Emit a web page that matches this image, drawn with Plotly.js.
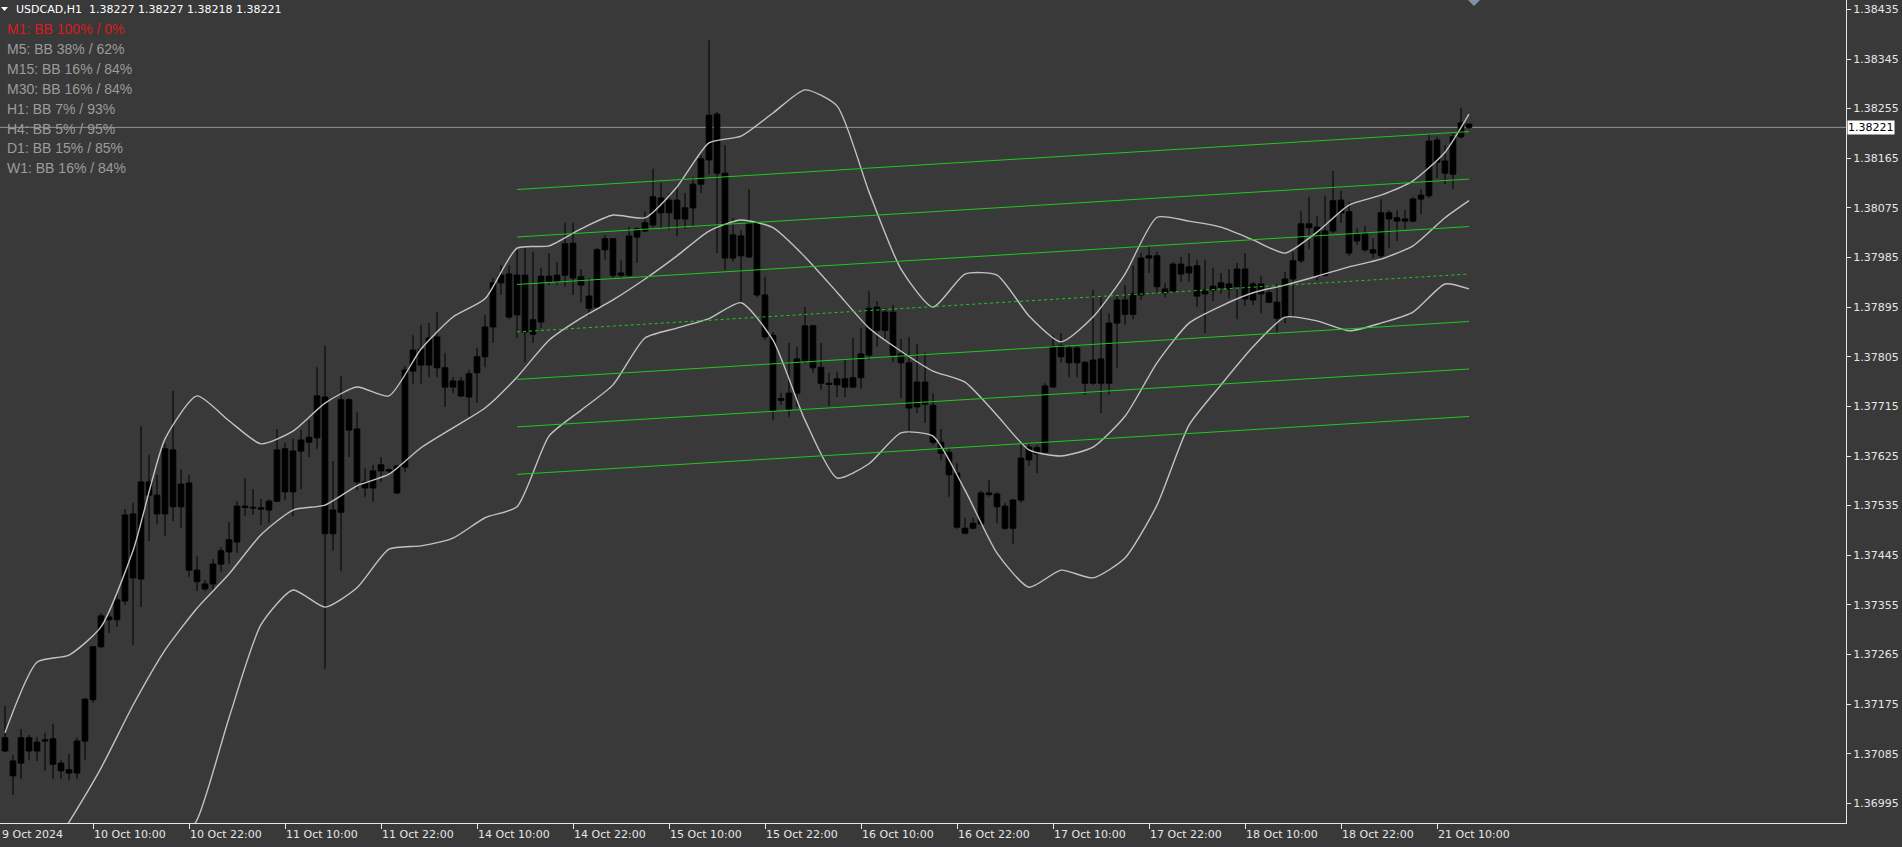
<!DOCTYPE html>
<html>
<head>
<meta charset="utf-8">
<script src="https://cdn.plot.ly/plotly-3.0.1.min.js"></script>
<style>
html,body{margin:0;padding:0;background:#393939;overflow:hidden;}
#chart{width:1902px;height:847px;}
</style>
</head>
<body>
<div id="chart"></div>
<script>
// ---- data (USDCAD, H1) ----
const symbol = "USDCAD";
const timeframe = "H1";

const open = [
1.37114,1.37072,1.37068,1.37114,1.37090,1.37108,1.37112,1.37068,1.37056,1.37050,1.37108,1.37183,
1.37279,1.37333,1.37328,1.37362,1.37520,1.37402,1.37578,1.37554,1.37520,1.37636,1.37533,1.37576,
1.37418,1.37393,1.37393,1.37429,1.37451,1.37469,1.37534,1.37532,1.37531,1.37527,1.37543,1.37638,
1.37560,1.37634,1.37650,1.37658,1.37732,1.37484,1.37523,1.37727,1.37674,1.37578,1.37567,1.37598,
1.37600,1.37558,1.37605,1.37779,1.37819,1.37790,1.37841,1.37785,1.37750,1.37761,1.37732,1.37776,
1.37805,1.37859,1.37939,1.37955,1.37881,1.37953,1.37846,1.37868,1.37951,1.37942,1.37953,1.38011,
1.37950,1.37915,1.37895,1.37999,1.38019,1.37953,1.37953,1.38022,1.38033,1.38044,1.38093,1.38066,
1.38089,1.38055,1.38075,1.38118,1.38162,1.38245,1.38138,1.37984,1.38024,1.37986,1.38048,1.37917,
1.37844,1.37726,1.37710,1.37739,1.37797,1.37861,1.37786,1.37757,1.37754,1.37765,1.37750,1.37767,
1.37808,1.37895,1.37853,1.37886,1.37810,1.37794,1.37714,1.37759,1.37717,1.37650,1.37632,1.37594,
1.37494,1.37494,1.37502,1.37558,1.37556,1.37534,1.37494,1.37545,1.37618,1.37640,1.37632,1.37750,
1.37825,1.37821,1.37794,1.37795,1.37757,1.37801,1.37757,1.37866,1.37908,1.37882,1.37917,1.37984,
1.37988,1.37928,1.37924,1.37973,1.37957,1.37970,1.37919,1.37926,1.37930,1.37937,1.37932,1.37964,
1.37908,1.37937,1.37921,1.37904,1.37877,1.37946,1.37979,1.38046,1.38040,1.37953,1.38033,1.38089,
1.38068,1.38015,1.38028,1.37999,1.37988,1.38066,1.38051,1.38055,1.38051,1.38091,1.38097,1.38198,
1.38160,1.38136,1.38204,1.38227];

const high = [
1.37172,1.37083,1.37130,1.37119,1.37115,1.37123,1.37139,1.37074,1.37085,1.37114,1.37186,1.37280,
1.37340,1.37340,1.37377,1.37529,1.37540,1.37679,1.37627,1.37591,1.37647,1.37743,1.37601,1.37591,
1.37444,1.37400,1.37438,1.37460,1.37505,1.37543,1.37585,1.37565,1.37547,1.37547,1.37674,1.37649,
1.37656,1.37672,1.37690,1.37786,1.37825,1.37616,1.37770,1.37730,1.37705,1.37603,1.37609,1.37623,
1.37603,1.37609,1.37788,1.37844,1.37863,1.37866,1.37886,1.37812,1.37768,1.37768,1.37781,1.37821,
1.37881,1.37948,1.37971,1.37971,1.37999,1.38002,1.37995,1.37966,1.37993,1.37977,1.38048,1.38048,
1.37964,1.37948,1.38002,1.38026,1.38020,1.37981,1.38040,1.38040,1.38068,1.38146,1.38120,1.38102,
1.38117,1.38102,1.38131,1.38171,1.38379,1.38249,1.38189,1.38057,1.38035,1.38109,1.38051,1.37950,
1.37850,1.37739,1.37830,1.37823,1.37895,1.37863,1.37830,1.37776,1.37777,1.37801,1.37839,1.37857,
1.37924,1.37906,1.37893,1.37899,1.37837,1.37841,1.37828,1.37812,1.37739,1.37674,1.37640,1.37612,
1.37513,1.37513,1.37562,1.37582,1.37560,1.37540,1.37547,1.37649,1.37649,1.37645,1.37757,1.37844,
1.37848,1.37826,1.37825,1.37797,1.37926,1.37913,1.37884,1.37917,1.37935,1.37970,1.37993,1.38004,
1.37995,1.37939,1.37977,1.37986,1.37993,1.37981,1.37981,1.37966,1.37957,1.37964,1.37975,1.37993,
1.37941,1.37951,1.37932,1.37937,1.37959,1.37995,1.38069,1.38095,1.38060,1.38097,1.38142,1.38106,
1.38086,1.38039,1.38042,1.38020,1.38091,1.38071,1.38071,1.38071,1.38095,1.38109,1.38207,1.38204,
1.38189,1.38211,1.38256,1.38227];

const low = [
1.37088,1.37010,1.37039,1.37074,1.37072,1.37054,1.37039,1.37039,1.37037,1.37039,1.37074,1.37177,
1.37277,1.37304,1.37315,1.37355,1.37282,1.37351,1.37471,1.37502,1.37480,1.37507,1.37494,1.37406,
1.37380,1.37380,1.37378,1.37415,1.37429,1.37449,1.37516,1.37518,1.37500,1.37503,1.37542,1.37545,
1.37516,1.37565,1.37623,1.37638,1.37239,1.37453,1.37416,1.37623,1.37563,1.37551,1.37542,1.37578,
1.37594,1.37556,1.37596,1.37756,1.37756,1.37768,1.37768,1.37714,1.37739,1.37732,1.37697,1.37721,
1.37786,1.37830,1.37917,1.37873,1.37839,1.37795,1.37830,1.37857,1.37935,1.37935,1.37932,1.37917,
1.37903,1.37879,1.37893,1.37981,1.37948,1.37948,1.37950,1.37975,1.38031,1.38040,1.38037,1.38035,
1.38024,1.38037,1.38040,1.38102,1.38135,1.37993,1.37962,1.37977,1.37899,1.37984,1.37913,1.37835,
1.37690,1.37717,1.37696,1.37714,1.37792,1.37776,1.37745,1.37716,1.37732,1.37732,1.37748,1.37747,
1.37799,1.37823,1.37837,1.37795,1.37730,1.37665,1.37703,1.37685,1.37645,1.37618,1.37551,1.37493,
1.37483,1.37492,1.37498,1.37551,1.37503,1.37491,1.37465,1.37540,1.37607,1.37594,1.37629,1.37750,
1.37794,1.37768,1.37768,1.37736,1.37754,1.37703,1.37736,1.37785,1.37863,1.37873,1.37908,1.37957,
1.37922,1.37913,1.37922,1.37941,1.37941,1.37895,1.37848,1.37906,1.37919,1.37911,1.37873,1.37897,
1.37899,1.37884,1.37903,1.37848,1.37866,1.37877,1.37975,1.38000,1.37944,1.37951,1.38029,1.38048,
1.37988,1.38008,1.37995,1.37984,1.37984,1.38002,1.38015,1.38037,1.38049,1.38064,1.38093,1.38129,
1.38118,1.38109,1.38200,1.38218];

const close = [
1.37090,1.37045,1.37114,1.37090,1.37106,1.37110,1.37066,1.37054,1.37050,1.37108,1.37184,1.37279,
1.37335,1.37328,1.37364,1.37518,1.37404,1.37578,1.37554,1.37520,1.37638,1.37533,1.37574,1.37418,
1.37397,1.37384,1.37429,1.37453,1.37473,1.37534,1.37532,1.37531,1.37529,1.37543,1.37636,1.37560,
1.37634,1.37654,1.37659,1.37734,1.37484,1.37527,1.37727,1.37672,1.37578,1.37567,1.37598,1.37609,
1.37598,1.37607,1.37781,1.37817,1.37790,1.37839,1.37785,1.37750,1.37761,1.37734,1.37774,1.37805,
1.37859,1.37939,1.37953,1.37877,1.37953,1.37850,1.37872,1.37951,1.37942,1.37953,1.38010,1.37948,
1.37935,1.37893,1.37999,1.38019,1.37953,1.37957,1.38024,1.38037,1.38048,1.38095,1.38066,1.38089,
1.38055,1.38075,1.38118,1.38164,1.38243,1.38138,1.37984,1.38026,1.37988,1.38048,1.37917,1.37841,
1.37708,1.37729,1.37739,1.37801,1.37861,1.37785,1.37757,1.37755,1.37765,1.37750,1.37767,1.37810,
1.37893,1.37853,1.37886,1.37808,1.37794,1.37712,1.37759,1.37719,1.37650,1.37630,1.37591,1.37496,
1.37485,1.37503,1.37558,1.37555,1.37533,1.37494,1.37545,1.37621,1.37641,1.37629,1.37752,1.37823,
1.37805,1.37794,1.37821,1.37757,1.37799,1.37757,1.37866,1.37908,1.37882,1.37919,1.37984,1.37988,
1.37932,1.37921,1.37973,1.37955,1.37968,1.37915,1.37926,1.37933,1.37939,1.37928,1.37964,1.37910,
1.37937,1.37919,1.37904,1.37875,1.37946,1.37979,1.38046,1.38039,1.37951,1.38033,1.38088,1.38066,
1.37993,1.38028,1.37999,1.37993,1.38066,1.38055,1.38057,1.38051,1.38091,1.38098,1.38196,1.38158,
1.38138,1.38204,1.38229,1.38221];

// Bollinger bands, read at every 4th bar
const bandBars = [0,4,8,12,16,20,24,28,32,36,40,44,48,52,56,60,64,68,72,76,80,84,88,92,96,100,104,108,112,116,120,124,128,132,136,140,144,148,152,156,160,164,168,172,176,180,183];
const bandUpper = [1.37123,1.37251,1.37264,1.37315,1.37453,1.37656,1.37734,1.37689,1.37647,1.37670,1.37721,1.37750,1.37734,1.37819,1.37877,1.37910,1.38002,1.38006,1.38037,1.38062,1.38057,1.38113,1.38193,1.38205,1.38247,1.38289,1.38260,1.38104,1.37964,1.37895,1.37955,1.37953,1.37879,1.37832,1.37877,1.37955,1.38058,1.38051,1.38040,1.38017,1.37993,1.38031,1.38080,1.38098,1.38124,1.38176,1.38245];
const bandMiddle = [1.36774,1.36871,1.36961,1.37059,1.37173,1.37273,1.37349,1.37411,1.37482,1.37527,1.37536,1.37571,1.37592,1.37640,1.37676,1.37712,1.37768,1.37835,1.37875,1.37908,1.37946,1.37988,1.38033,1.38053,1.38039,1.37986,1.37922,1.37857,1.37815,1.37779,1.37759,1.37699,1.37636,1.37625,1.37641,1.37697,1.37794,1.37866,1.37897,1.37921,1.37935,1.37951,1.37968,1.37982,1.38006,1.38057,1.38088];
const bandLower = [1.36426,1.36490,1.36658,1.36803,1.36894,1.36889,1.36965,1.37150,1.37319,1.37382,1.37351,1.37386,1.37456,1.37462,1.37476,1.37513,1.37533,1.37661,1.37708,1.37754,1.37839,1.37857,1.37874,1.37903,1.37835,1.37690,1.37585,1.37611,1.37667,1.37661,1.37563,1.37449,1.37387,1.37418,1.37404,1.37440,1.37536,1.37681,1.37754,1.37823,1.37877,1.37870,1.37852,1.37866,1.37886,1.37937,1.37928];

// Regression channel
const channelBars = [64, 183];
const channelMid = [1.37850, 1.37955];
const channelStep = 0.000861;
const channelLevels = [3, 2, 1, 0, -1, -2, -3];

// Axis ticks
const yTicks = [1.36995,1.37085,1.37175,1.37265,1.37355,1.37445,1.37535,1.37625,1.37715,1.37805,1.37895,1.37985,1.38075,1.38165,1.38255,1.38345,1.38435];
const firstLabel = "9 Oct 2024";
const tickBars = [11,23,35,47,59,71,83,95,107,119,131,143,155,167,179];
const tickLabels = ["10 Oct 10:00","10 Oct 22:00","11 Oct 10:00","11 Oct 22:00","14 Oct 10:00","14 Oct 22:00","15 Oct 10:00","15 Oct 22:00","16 Oct 10:00","16 Oct 22:00","17 Oct 10:00","17 Oct 22:00","18 Oct 10:00","18 Oct 22:00","21 Oct 10:00"];

// BB status panel
const panelFrames = ["M1","M5","M15","M30","H1","H4","D1","W1"];
const panelLow = [100,38,16,16,7,5,15,16];
const panelHigh = [0,62,84,84,93,95,85,84];

// ---- drawing ----
const BG = '#393939';
const AX = '#e6e6e6';
const bars = open.map((_, i) => i);
const last = open.length - 1;
const lastClose = close[last];

const traces = [];
traces.push({
  type: 'candlestick', x: bars, open: open, high: high, low: low, close: close,
  increasing: {line: {color: '#000000', width: 1}, fillcolor: '#000000'},
  decreasing: {line: {color: '#000000', width: 1}, fillcolor: '#000000'},
  whiskerwidth: 0, hoverinfo: 'skip', showlegend: false
});
[bandUpper, bandMiddle, bandLower].forEach(b => {
  traces.push({type: 'scatter', mode: 'lines', x: bandBars, y: b,
    line: {color: '#c2c2c2', width: 1.4, shape: 'spline', smoothing: 0.6},
    hoverinfo: 'skip', showlegend: false});
});
channelLevels.forEach(k => {
  traces.push({type: 'scatter', mode: 'lines', x: channelBars,
    y: channelMid.map(v => v + k * channelStep),
    line: {color: '#1ec81e', width: 1, dash: k === 0 ? '3px,3px' : 'solid'},
    hoverinfo: 'skip', showlegend: false});
});

const annotations = [];
// header
annotations.push({xref: 'paper', yref: 'paper', x: 0, y: 1, xanchor: 'left', yanchor: 'middle',
  xshift: 14, yshift: -9, showarrow: false,
  text: symbol + ',' + timeframe + '\u00a0\u00a0' + [open[last], high[last], low[last], close[last]].map(v => v.toFixed(5)).join(' '),
  font: {family: 'DejaVu Sans', size: 11, color: '#ffffff'}});
panelFrames.forEach((f, i) => {
  annotations.push({xref: 'paper', yref: 'paper', x: 0, y: 1, xanchor: 'left', yanchor: 'middle',
    xshift: 5, yshift: -(29 + i * 19.9), showarrow: false,
    text: f + ': BB ' + panelLow[i] + '% / ' + panelHigh[i] + '%',
    font: {family: 'Liberation Sans', size: 14, color: i === 0 ? '#d9191e' : '#9c9c9c'}});
});
// x labels
annotations.push({xref: 'paper', yref: 'paper', x: 0, y: 0, xanchor: 'left', yanchor: 'top',
  xshift: 0, yshift: -3, showarrow: false, text: firstLabel,
  font: {family: 'DejaVu Sans', size: 11, color: AX}});
tickBars.forEach((b, i) => {
  annotations.push({xref: 'x', yref: 'paper', x: b, y: 0, xanchor: 'left', yanchor: 'top',
    xshift: -1, yshift: -3, showarrow: false, text: tickLabels[i],
    font: {family: 'DejaVu Sans', size: 11, color: AX}});
});
// current price label
annotations.push({xref: 'paper', yref: 'y', x: 1, y: lastClose, xanchor: 'left', yanchor: 'middle',
  xshift: 1, showarrow: false, text: lastClose.toFixed(5), bgcolor: '#ffffff', borderpad: 0,
  font: {family: 'DejaVu Sans', size: 11, color: '#000000'}});

const shapes = [
  {type: 'line', xref: 'paper', yref: 'y', x0: 0, x1: 1, y0: lastClose, y1: lastClose,
   line: {color: '#8a949e', width: 1}, layer: 'below'},
  {type: 'path', xref: 'paper', yref: 'paper', xsizemode: 'pixel', ysizemode: 'pixel',
   xanchor: 0, yanchor: 1, path: 'M1,-7 L8,-7 L4.5,-11 Z',
   fillcolor: '#ffffff', line: {width: 0}},
  {type: 'path', xref: 'paper', yref: 'paper', xsizemode: 'pixel', ysizemode: 'pixel',
   xanchor: 1474 / 1846, yanchor: 1, path: 'M-6,0 L6,0 L0,-6 Z',
   fillcolor: '#8490aa', line: {width: 0}}
];

const layout = {
  width: 1902, height: 847,
  margin: {l: 0, r: 56, t: 0, b: 24, pad: 0},
  paper_bgcolor: BG, plot_bgcolor: BG,
  showlegend: false,
  boxgap: 0.3, boxgroupgap: 0,
  xaxis: {range: [-0.625, 230.125], showgrid: false, zeroline: false,
    showline: true, linecolor: AX, linewidth: 1,
    ticks: 'outside', ticklen: 5, tickcolor: AX, tickwidth: 1,
    tickvals: tickBars, showticklabels: false,
    rangeslider: {visible: false}, fixedrange: true},
  yaxis: {side: 'right', range: [1.369594, 1.38452], showgrid: false, zeroline: false,
    showline: true, linecolor: AX, linewidth: 1,
    ticks: 'outside', ticklen: 4, tickcolor: AX,
    tickvals: yTicks, ticktext: yTicks.map(v => v.toFixed(5)),
    tickfont: {family: 'DejaVu Sans', size: 11, color: AX}, fixedrange: true},
  annotations: annotations,
  shapes: shapes,
  hovermode: false
};

Plotly.newPlot('chart', traces, layout, {displayModeBar: false, staticPlot: true});
</script>
</body>
</html>
